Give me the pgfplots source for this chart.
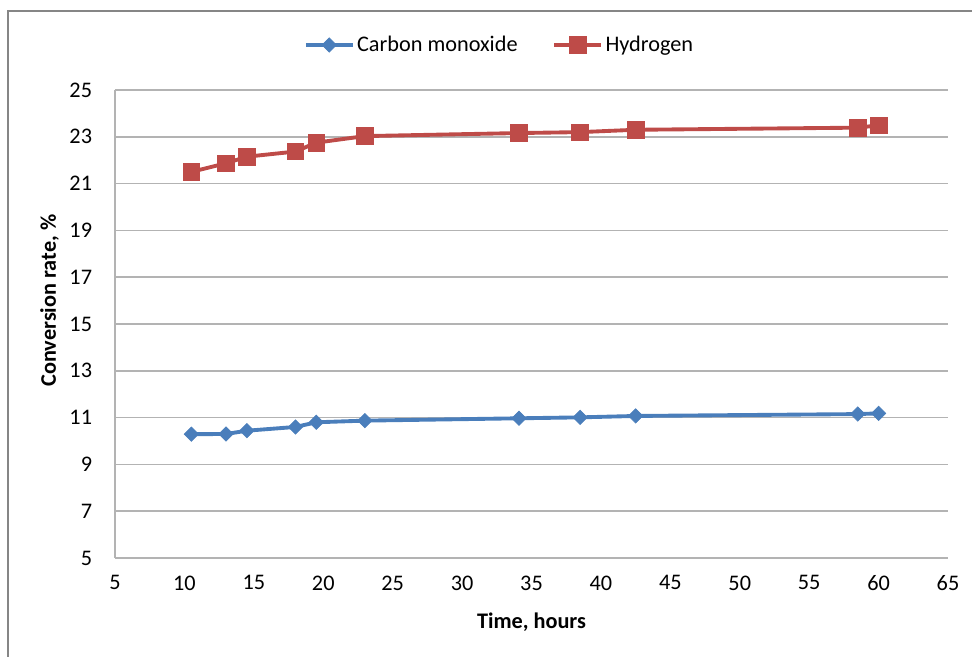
\documentclass[border=0pt]{standalone}
\usepackage{fontspec}
\setmainfont{Carlito}
\usepackage{pgfplots}
\pgfplotsset{compat=1.18}
\definecolor{coblue}{HTML}{4A7EBB}
\definecolor{hred}{HTML}{BE4B48}
\definecolor{gridgray}{HTML}{B3B3B3}
\definecolor{bordergray}{HTML}{868686}
\begin{document}
\fontsize{16.7}{20}\selectfont
\begin{tikzpicture}
\path[use as bounding box] (0pt,0pt) rectangle (729pt,492.75pt);
\draw[bordergray, line width=1.6pt] (6pt,0pt) -- (6pt,484.5pt) -- (729pt,484.5pt);
\begin{axis}[
  at={(86.25pt,74.25pt)}, anchor=south west,
  scale only axis, width=624.75pt, height=351pt,
  xmin=5, xmax=65, ymin=5, ymax=25,
  xtick={5,10,...,65}, ytick={5,7,...,25},
  axis x line=bottom, axis y line=left,
  axis line style={-, gridgray, line width=1.1pt},
  major tick length=0pt,
  ymajorgrids, grid style={gridgray, line width=1.1pt},
  /pgf/number format/assume math mode=true,
  tick label style={font=\fontsize{16.7}{20}\selectfont, inner sep=0pt},
  yticklabel style={anchor=east, xshift=-17pt},
  xticklabel style={anchor=north, yshift=-13pt},
  xlabel={\bfseries Time, hours},
  ylabel={\bfseries Conversion rate, \%},
  every axis x label/.style={at={(axis description cs:0.5,0)}, anchor=center, yshift=-48pt},
  every axis y label/.style={at={(axis description cs:0,0.55)}, anchor=center, rotate=90, yshift=49pt},
  legend columns=2,
  legend style={at={(0.462,1.0962)}, anchor=center, draw=none, fill=none,
    font=\fontsize{16.7}{20}\selectfont, cells={anchor=west},
    /tikz/every even column/.append style={column sep=24pt}},
  legend image code/.code={\draw[mark repeat=2, mark phase=2] plot coordinates {(0pt,0pt) (17.5pt,0pt) (35pt,0pt)};},
  clip=false,
]
\addplot[coblue, line width=2.9pt, mark=square*, mark size=3.8pt,
  mark options={rotate=45, line width=0.5pt, fill=coblue}]
  coordinates {(10.5,10.29)(13.0,10.30)(14.5,10.44)(18.0,10.60)(19.5,10.80)(23.0,10.87)(34.1,10.97)(38.5,11.01)(42.5,11.07)(58.5,11.15)(60.0,11.18)};
\addlegendentry{Carbon monoxide}
\addplot[hred, line width=2.9pt, mark=square*, mark size=6.2pt,
  mark options={line width=0.5pt, fill=hred, rounded corners=1pt}]
  coordinates {(10.5,21.5)(13.0,21.87)(14.5,22.15)(18.0,22.37)(19.5,22.75)(23.0,23.03)(34.1,23.16)(38.5,23.2)(42.5,23.3)(58.5,23.39)(60.0,23.49)};
\addlegendentry{Hydrogen}
\end{axis}
\end{tikzpicture}
\end{document}
